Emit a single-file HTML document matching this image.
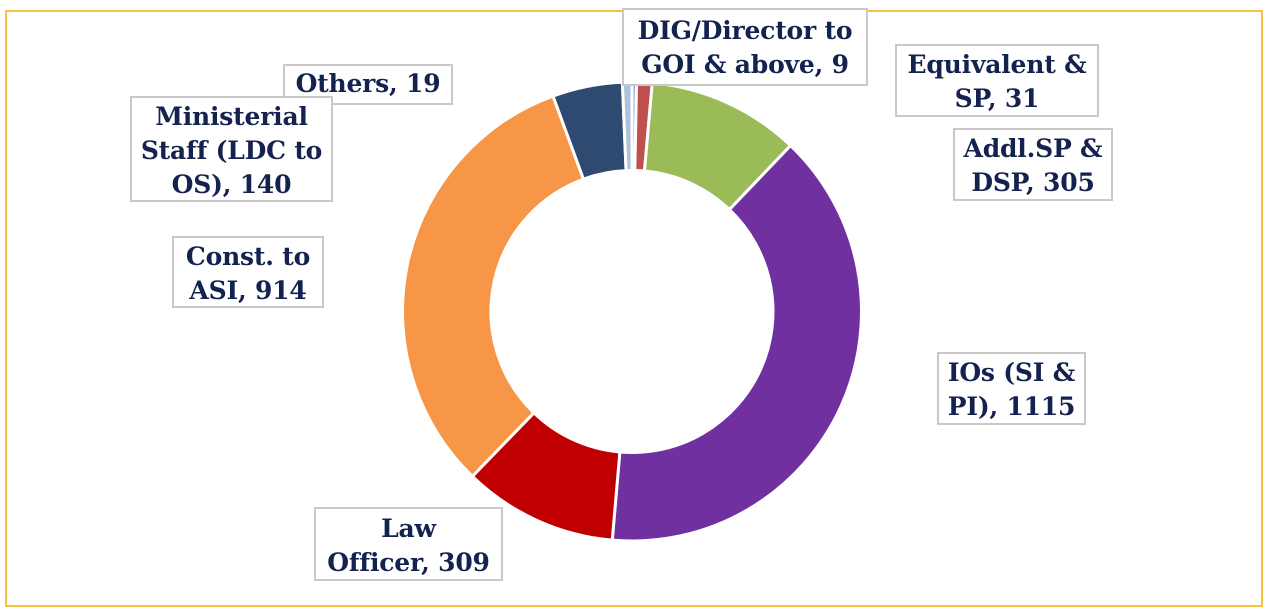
<!DOCTYPE html>
<html><head><meta charset="utf-8"><style>
body{margin:0;width:1266px;height:609px;background:#fff;overflow:hidden;position:relative;font-family:"DejaVu Serif",serif}
.frame{position:absolute;left:5px;top:10px;width:1254px;height:593px;border:2px solid #f5c242}
.lb{position:absolute;border:2px solid #c9c9c9;background:#fff;color:#14224f;font-weight:bold;font-size:25px;line-height:34px;text-align:center;box-sizing:border-box;white-space:nowrap;letter-spacing:-0.2px}
svg{position:absolute;left:0;top:0}
</style></head><body>
<div class="frame"></div>
<svg width="1266" height="609" id="s"></svg>
<div class="lb" style="left:622px;top:8px;width:246px;height:78px;padding-top:4px">DIG/Director to<br>GOI &amp; above, 9</div>
<div class="lb" style="left:895px;top:44px;width:204px;height:73px;padding-top:2px">Equivalent &amp;<br>SP, 31</div>
<div class="lb" style="left:953px;top:128px;width:160px;height:73px;padding-top:2px">Addl.SP &amp;<br>DSP, 305</div>
<div class="lb" style="left:283px;top:64px;width:170px;height:41px;padding-top:1px">Others, 19</div>
<div class="lb" style="left:130px;top:96px;width:203px;height:106px;padding-top:2px">Ministerial<br>Staff (LDC to<br>OS), 140</div>
<div class="lb" style="left:172px;top:236px;width:152px;height:72px;padding-top:2px">Const. to<br>ASI, 914</div>
<div class="lb" style="left:937px;top:352px;width:149px;height:73px;padding-top:2px">IOs (SI &amp;<br>PI), 1115</div>
<div class="lb" style="left:314px;top:507px;width:189px;height:74px;padding-top:3px">Law<br>Officer, 309</div>
<script>
var d=[[9,'#8faadc'],[31,'#c0504d'],[305,'#9bbb59'],[1115,'#7030a0'],[309,'#c00000'],[914,'#f79646'],[140,'#2e4a70'],[19,'#adc2dc']];
var cx=632,cy=311.5,R=229.5,r=141,t=0;d.forEach(function(x){t+=x[0]});
var a=0,h='';
function p(rad,ang){ang=(ang-90)*Math.PI/180;return (cx+rad*Math.cos(ang)).toFixed(2)+' '+(cy+rad*Math.sin(ang)).toFixed(2)}
d.forEach(function(x){var s=a,e=a+x[0]/t*360;a=e;var l=(e-s)>180?1:0;
h+='<path d="M'+p(R,s)+' A'+R+' '+R+' 0 '+l+' 1 '+p(R,e)+' L'+p(r,e)+' A'+r+' '+r+' 0 '+l+' 0 '+p(r,s)+' Z" fill="'+x[1]+'" stroke="#fff" stroke-width="3"/>';});
document.getElementById('s').innerHTML=h;
</script>
</body></html>
